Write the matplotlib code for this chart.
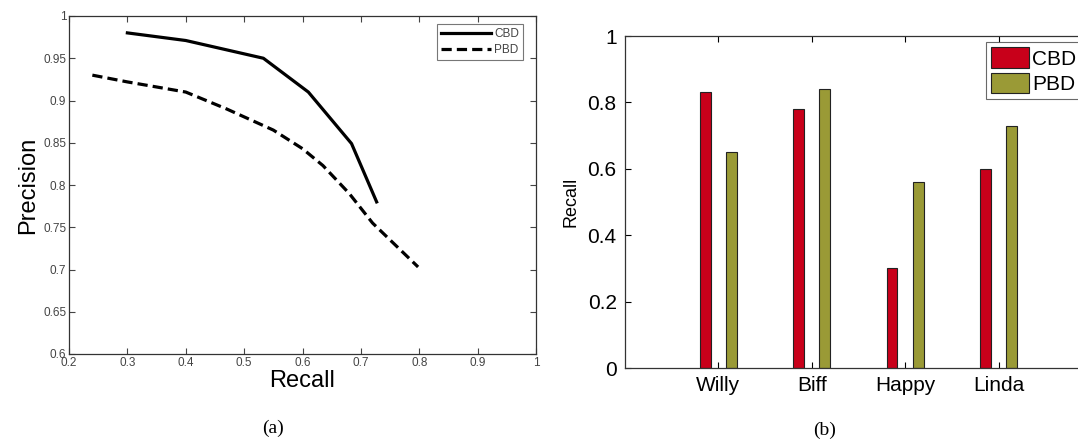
import matplotlib
matplotlib.use('Agg')
import matplotlib.pyplot as plt
import numpy as np

# (a) precision / recall curves
cbd_recall = [0.30, 0.40, 0.533, 0.61, 0.684, 0.727]
cbd_precision = [0.980, 0.971, 0.950, 0.910, 0.849, 0.780]
pbd_recall = [0.24, 0.30, 0.40, 0.47, 0.55, 0.60, 0.635, 0.68, 0.72, 0.798]
pbd_precision = [0.930, 0.922, 0.910, 0.890, 0.865, 0.843, 0.823, 0.790, 0.755, 0.703]

# (b) recall per character
characters = ['Willy', 'Biff', 'Happy', 'Linda']
cbd_values = [0.83, 0.78, 0.30, 0.60]
pbd_values = [0.65, 0.84, 0.56, 0.73]

plt.rcParams['font.family'] = ['Liberation Sans', 'DejaVu Sans']
W, H = 1078, 441
fig = plt.figure(figsize=(W / 100, H / 100), dpi=100)


def box(l, t, r, b):
    return [l / W, 1 - b / H, (r - l) / W, (b - t) / H]


# ---- left panel ----
ax1 = fig.add_axes(box(69, 16, 536, 354))
ax1.plot(cbd_recall, cbd_precision, color='black', lw=2.3, label='CBD')
ax1.plot(pbd_recall, pbd_precision, color='black', lw=2.3, ls=(0, (3.2, 1.6)), label='PBD')
ax1.set_xlim(0.2, 1.0)
ax1.set_ylim(0.6, 1.0)
ax1.set_xticks(np.arange(0.2, 1.01, 0.1))
ax1.set_yticks(np.arange(0.6, 1.001, 0.05))
ax1.set_xticklabels(['0.2', '0.3', '0.4', '0.5', '0.6', '0.7', '0.8', '0.9', '1'])
ax1.set_yticklabels(['0.6', '0.65', '0.7', '0.75', '0.8', '0.85', '0.9', '0.95', '1'])
ax1.tick_params(direction='in', top=True, right=True, labelsize=8.5, colors='#444444',
                length=4, width=0.8, pad=2)
for s in ax1.spines.values():
    s.set_color('#333333')
    s.set_linewidth(0.9)
ax1.set_xlabel('Recall', fontsize=17, labelpad=1)
ax1.set_ylabel('Precision', fontsize=17, labelpad=3)
leg1 = ax1.legend(loc='upper right', fontsize=8.5, handlelength=4.2, frameon=True,
                  fancybox=False, edgecolor='#555555', borderpad=0.35,
                  labelspacing=0.35, handletextpad=0.3, bbox_to_anchor=(0.985, 0.995))
leg1.get_frame().set_linewidth(0.8)
for t in leg1.get_texts():
    t.set_color('#444444')

# ---- right panel ----
ax2 = fig.add_axes(box(625, 36, 1120, 368))
x = np.arange(1, len(characters) + 1)
bw = 0.115
ax2.bar(x - 0.14, cbd_values, bw, color='#C8001A', edgecolor='#222222', lw=0.8, label='CBD')
ax2.bar(x + 0.14, pbd_values, bw, color='#9A9A36', edgecolor='#222222', lw=0.8, label='PBD')
ax2.set_xlim(0, 5.3)
ax2.set_ylim(0, 1)
ax2.set_xticks(x)
ax2.set_xticklabels(characters)
ax2.set_yticks([0, 0.2, 0.4, 0.6, 0.8, 1])
ax2.set_yticklabels(['0', '0.2', '0.4', '0.6', '0.8', '1'])
ax2.tick_params(direction='in', top=True, labelsize=15, length=4, width=0.8, pad=6)
for s in ax2.spines.values():
    s.set_color('#333333')
    s.set_linewidth(0.9)
ax2.set_ylabel('Recall', fontsize=13, labelpad=6)
leg2 = ax2.legend(loc='upper left', bbox_to_anchor=(986 / W, 1 - 42 / H),
                  bbox_transform=fig.transFigure, fontsize=15, frameon=True,
                  fancybox=False, edgecolor='#444444', borderpad=0.25,
                  labelspacing=0.2, handlelength=1.8, handleheight=1.15,
                  handletextpad=0.15, borderaxespad=0)
leg2.get_frame().set_linewidth(0.8)

# captions
fig.text(273 / W, 1 - 428 / H, '(a)', fontsize=14, family='Liberation Serif',
         ha='center', va='center')
fig.text(825 / W, 1 - 430 / H, '(b)', fontsize=14, family='Liberation Serif',
         ha='center', va='center')

fig.savefig('out.png', dpi=100)
